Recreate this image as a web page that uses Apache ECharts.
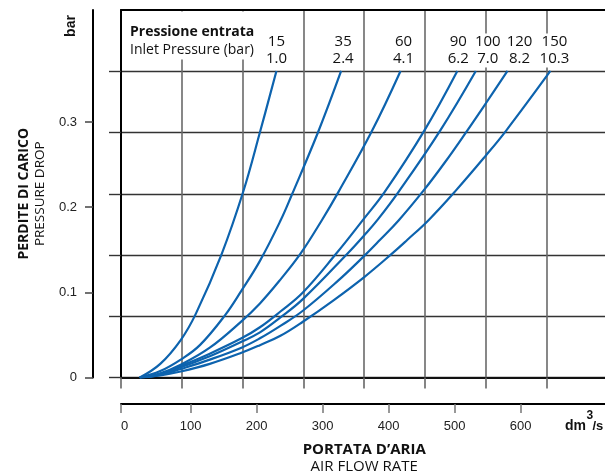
<!DOCTYPE html>
<html><head><meta charset="utf-8">
<script src="https://cdn.jsdelivr.net/npm/echarts@6/dist/echarts.min.js"></script>
<style>html,body{margin:0;padding:0;background:#fff}#c{width:605px;height:475px}</style>
</head><body><div id="c"></div>
<script>
// ---- data ----
const inletPsi = ['15', '35', '60', '90', '100', '120', '150'];
const inletBar = ['1.0', '2.4', '4.1', '6.2', '7.0', '8.2', '10.3'];
const xTicks = [0, 100, 200, 300, 400, 500, 600];
const yTicks = [0, 0.1, 0.2, 0.3];
// [air flow dm3/s, pressure drop bar]
const curve15 = [[23,0],[54,0.016],[85,0.044],[108,0.075],[147,0.145],[180,0.219],[205,0.288],[230,0.36]];
const curve35 = [[23,0],[54,0.0075],[85,0.021],[114,0.038],[152,0.073],[177,0.102],[205,0.137],[236,0.184],[253,0.214],[293,0.288],[328,0.36]];
const curve60 = [[23,0],[54,0.005],[85,0.015],[129,0.035],[177,0.066],[205,0.087],[236,0.115],[267,0.146],[299,0.185],[324,0.218],[375,0.29],[418,0.36]];
const curve90 = [[23,0],[54,0.004],[85,0.0135],[129,0.028],[177,0.046],[205,0.059],[236,0.0775],[270,0.0998],[320,0.145],[362,0.186],[394,0.218],[454,0.29],[504,0.36]];
const curve100 = [[23,0],[54,0.0035],[85,0.012],[129,0.025],[177,0.042],[205,0.053],[236,0.0705],[270,0.092],[337,0.145],[363,0.167],[384,0.186],[415,0.218],[478,0.29],[532,0.36]];
const curve120 = [[23,0],[54,0.003],[85,0.010],[129,0.021],[177,0.035],[205,0.046],[236,0.0606],[270,0.0784],[323,0.1134],[363,0.1428],[387,0.1617],[415,0.1844],[453,0.2197],[485,0.2525],[519,0.29],[547,0.3218],[580,0.36]];
const curve150 = [[23,0],[54,0.0025],[85,0.007],[129,0.016],[177,0.029],[205,0.038],[236,0.049],[270,0.0655],[317,0.091],[363,0.118],[405,0.1455],[428,0.1615],[460,0.1845],[500,0.218],[547,0.2605],[578,0.29],[645,0.36]];
const curves = [curve15, curve35, curve60, curve90, curve100, curve120, curve150];

// ---- layout / style ----
const labelDx = [0, 2, 3, 1, 12, 12, 4];
const X_MIN = -5.45, X_MAX = 731.3, Y_MAX = 0.4316;
const BLUE = '#0d63ae';
const OS = '"Open Sans", "Noto Sans", sans-serif';
const AR = '"Liberation Sans", Arial, sans-serif';
const RECT = { left: 121, top: 10, width: 486.4, height: 367.5, containLabel: false, outerBoundsMode: 'none' };

const series = curves.map((c, i) => ({
  type: 'line', name: inletPsi[i], xAxisIndex: 0, yAxisIndex: 0,
  data: c, showSymbol: false, symbol: 'none', smooth: 0.4,
  lineStyle: { color: BLUE, width: 2.2 }, silent: true, z: 3,
  markPoint: {
    symbol: 'rect', symbolSize: 1, silent: true,
    itemStyle: { color: 'rgba(0,0,0,0)' },
    data: [{ coord: c[c.length - 1] }],
    label: {
      show: true, position: 'top', distance: 3, offset: [labelDx[i], 0],
      formatter: inletPsi[i] + '\n' + inletBar[i],
      fontFamily: OS, fontSize: 15, lineHeight: 17, color: '#111',
      backgroundColor: '#fff'
    }
  }
}));

const chart = echarts.init(document.getElementById('c'), null, { renderer: 'canvas' });
chart.setOption({
  animation: false,
  grid: [Object.assign({}, RECT), Object.assign({}, RECT)],
  xAxis: [
    {
      gridIndex: 0, type: 'value', min: X_MIN, max: X_MAX, position: 'bottom', offset: 26.5,
      axisLine: { show: true, onZero: false, lineStyle: { color: '#000', width: 2 } },
      axisTick: { show: true, inside: false, length: 9, customValues: [X_MIN].concat(xTicks.slice(1)),
        lineStyle: { color: '#777', width: 1.5 } },
      axisLabel: { show: true, customValues: xTicks, margin: 16, fontFamily: AR, fontSize: 13, color: '#222' },
      splitLine: { show: false }, minorSplitLine: { show: false },
      name: '{b|PORTATA D’ARIA}\n{n|AIR FLOW RATE}', nameLocation: 'middle', nameGap: 37,
      nameTextStyle: { rich: {
        b: { fontFamily: OS, fontWeight: 'bold', fontSize: 15, lineHeight: 17, color: '#111' },
        n: { fontFamily: OS, fontSize: 15, lineHeight: 17, color: '#111' } } }
    },
    {
      gridIndex: 1, type: 'value', min: 0, max: 8, interval: 1, position: 'bottom', offset: 0,
      axisLine: { show: true, onZero: false, lineStyle: { color: '#111', width: 2 } },
      axisTick: { show: true, inside: false, length: 11, lineStyle: { color: '#666', width: 1.6 } },
      axisLabel: { show: false },
      splitLine: { show: true, lineStyle: { color: '#6a6a6a', width: 1.6 } }
    },
    {
      gridIndex: 1, type: 'value', min: 0, max: 8, interval: 1, position: 'top', offset: 0,
      axisLine: { show: true, onZero: false, lineStyle: { color: '#000', width: 2 } },
      axisTick: { show: false }, axisLabel: { show: false }, splitLine: { show: false }
    }
  ],
  yAxis: [
    {
      gridIndex: 0, type: 'value', min: 0, max: Y_MAX, position: 'left', offset: 28,
      axisLine: { show: true, onZero: false, lineStyle: { color: '#000', width: 2 } },
      axisTick: { show: true, inside: false, length: 8, customValues: yTicks,
        lineStyle: { color: '#444', width: 1.5 } },
      axisLabel: { show: true, customValues: yTicks, margin: 16, fontFamily: AR, fontSize: 13, color: '#222' },
      splitLine: { show: false },
      name: '{b|PERDITE DI CARICO}\n{n|PRESSURE DROP}', nameLocation: 'middle', nameRotate: 90, nameGap: 45,
      nameTextStyle: { rich: {
        b: { fontFamily: OS, fontWeight: 'bold', fontSize: 14, lineHeight: 16, color: '#111' },
        n: { fontFamily: OS, fontSize: 13.5, lineHeight: 16, color: '#111' } } }
    },
    {
      gridIndex: 1, type: 'value', min: 0, max: 6, interval: 1, position: 'left', offset: 0,
      axisLine: { show: true, onZero: false, lineStyle: { color: '#000', width: 2 } },
      axisTick: { show: true, inside: false, length: 12, customValues: [0,1,2,3,4,5],
        lineStyle: { color: '#333', width: 1.4 } },
      axisLabel: { show: false },
      splitLine: { show: true, lineStyle: { color: '#333', width: 1.4 } }
    }
  ],
  graphic: [
    { type: 'rect', z: 5, shape: { x: 122.5, y: 11.5, width: 136, height: 48 }, style: { fill: '#fff' } },
    { type: 'text', z: 6, x: 130, y: 32, style: { text: 'Pressione entrata', fontFamily: OS, fontWeight: 'bold',
      fontSize: 14, fill: '#111', verticalAlign: 'middle' } },
    { type: 'text', z: 6, x: 130, y: 50, style: { text: 'Inlet Pressure (bar)', fontFamily: OS,
      fontSize: 14, fill: '#111', verticalAlign: 'middle' } },
    { type: 'text', z: 6, x: 71, y: 26, rotation: Math.PI / 2, style: { text: 'bar', fontFamily: AR, fontWeight: 'bold',
      fontSize: 14, fill: '#111', align: 'center', verticalAlign: 'middle' } },
    { type: 'text', z: 6, x: 565, y: 433, style: { text: 'dm', fontFamily: AR, fontWeight: 'bold',
      fontSize: 14, fill: '#111', verticalAlign: 'bottom' } },
    { type: 'text', z: 6, x: 586.5, y: 422, style: { text: '3', fontFamily: AR, fontWeight: 'bold',
      fontSize: 12, fill: '#111', verticalAlign: 'bottom' } },
    { type: 'text', z: 6, x: 592.5, y: 433, style: { text: '/s', fontFamily: AR, fontWeight: 'bold',
      fontSize: 13, fill: '#111', verticalAlign: 'bottom' } }
  ],
  series: series
});
</script></body></html>
